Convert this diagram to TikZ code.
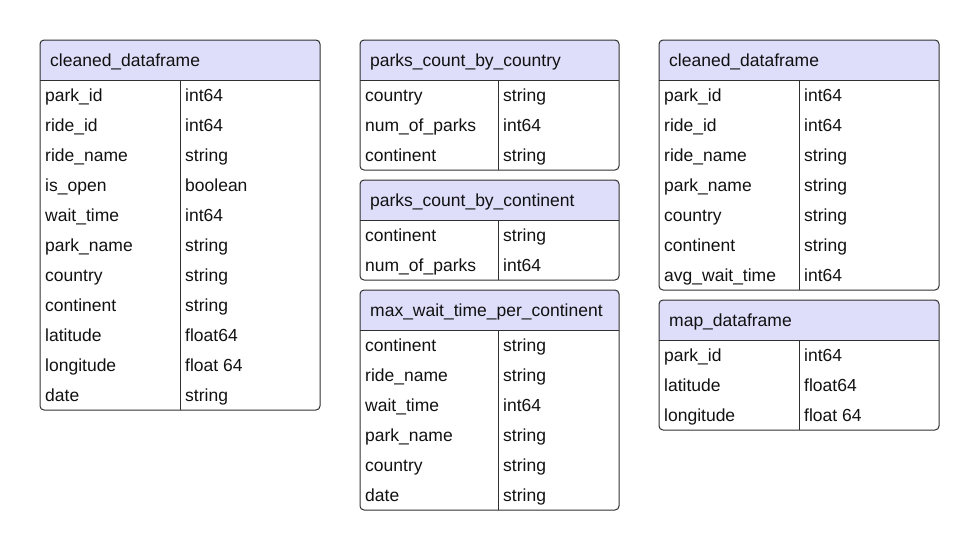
\documentclass[tikz,border=0pt]{standalone}
\usepackage{fontspec}
\setmainfont{Liberation Sans}
\tikzset{
  hdr/.style={fill=hdrcol},
  tbl/.style={draw=bordercol, line width=1pt},
  cell/.style={anchor=base west, inner sep=0pt, font=\fontsize{17.5}{20}\selectfont, text=textcol},
  ttl/.style={anchor=base west, inner sep=0pt, font=\fontsize{17.5}{20}\selectfont, text=textcol},
}
\definecolor{hdrcol}{HTML}{DEDEFA}
\definecolor{bordercol}{HTML}{303030}
\definecolor{textcol}{HTML}{111111}
\newcommand\erdtable[8]{%
  \pgfmathsetmacro\yb{#3+40+30*#8}%
  \coordinate (#1-nw) at (#2,#3);
  \coordinate (#1-se) at (#4,\yb);
  \begin{scope}
    \clip[rounded corners=4] (#1-nw) rectangle (#1-se);
    \fill[hdr] (#1-nw) rectangle (#4,#3+40);
  \end{scope}
  \draw[tbl,rounded corners=4] (#1-nw) rectangle (#1-se);
  \draw[tbl] (#2,#3+40) -- (#4,#3+40);
  \draw[tbl] (#5,#3+40) -- (#5,\yb);
  \node[ttl] (#1-title) at (#2+10,#3+26) {#6};
  \foreach \nm/\ty [count=\i] in {#7} {
    \node[cell] (#1-n\i) at (#2+5,#3+31+30*\i) {\nm};
    \node[cell] (#1-t\i) at (#5+5,#3+31+30*\i) {\ty};
  }
}
\begin{document}
\begin{tikzpicture}[x=1pt,y=-1pt]
\useasboundingbox (0,0) rectangle (980,550);
\erdtable{a}{40}{40}{320}{180}{cleaned\_dataframe}{park\_id/int64, ride\_id/int64, ride\_name/string, is\_open/boolean, wait\_time/int64, park\_name/string, country/string, continent/string, latitude/float64, longitude/float 64, date/string}{11}
\erdtable{b}{360}{40}{619}{498}{parks\_count\_by\_country}{country/string, num\_of\_parks/int64, continent/string}{3}
\erdtable{c}{360}{180}{619}{498}{parks\_count\_by\_continent}{continent/string, num\_of\_parks/int64}{2}
\erdtable{d}{360}{290}{619}{498}{max\_wait\_time\_per\_continent}{continent/string, ride\_name/string, wait\_time/int64, park\_name/string, country/string, date/string}{6}
\erdtable{e}{659}{40}{939}{799}{cleaned\_dataframe}{park\_id/int64, ride\_id/int64, ride\_name/string, park\_name/string, country/string, continent/string, avg\_wait\_time/int64}{7}
\erdtable{f}{659}{300}{939}{799}{map\_dataframe}{park\_id/int64, latitude/float64, longitude/float 64}{3}
\end{tikzpicture}
\end{document}
